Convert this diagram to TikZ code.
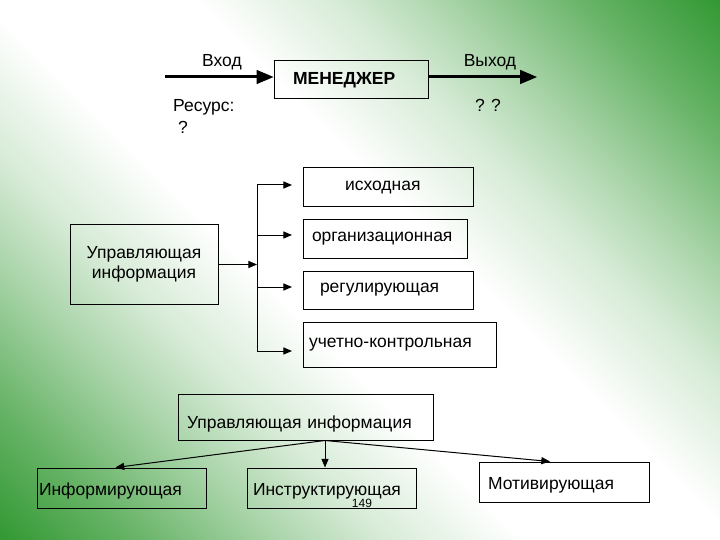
\documentclass[tikz,border=0pt]{standalone}
\usepackage{fontspec}
\setmainfont{Liberation Sans}
\usepackage{tikz}
\usetikzlibrary{arrows}
\definecolor{slidegreen}{RGB}{51,153,51}
\pgfdeclareverticalshading{slidebg}{100bp}{color(0bp)=(slidegreen); color(14.6bp)=(slidegreen); color(22bp)=(slidegreen!75!white); color(30bp)=(slidegreen!42!white); color(36bp)=(slidegreen!20!white); color(44bp)=(white); color(56bp)=(white); color(64bp)=(slidegreen!20!white); color(70bp)=(slidegreen!42!white); color(78bp)=(slidegreen!75!white); color(85.4bp)=(slidegreen); color(100bp)=(slidegreen)}
\tikzset{box/.style={draw,line width=1pt,inner ysep=0pt,align=left},
  link/.style={->,line width=1pt}}

\begin{document}
\begin{tikzpicture}[x=1pt,y=-1pt,>=triangle 45,every node/.style={font=\fontsize{17.5}{20}\selectfont}]
\shade[shading=slidebg,shading angle=-45] (0,0) rectangle (720,540);
\node[box,minimum height=38,inner xsep=19,text width=116,font=\fontsize{17.5}{20}\selectfont\bfseries] (mgr) at (351,80) {МЕНЕДЖЕР};
\coordinate (inL) at (165,77);
\coordinate (outR) at (537,77);
\draw[->,line width=3pt] (inL) -- (inL -| mgr.west);
\draw[->,line width=3pt] (outR -| mgr.east) -- (outR);
\node[anchor=base] (vhod) at (222,67) {Вход};
\node[anchor=base] (vyhod) at (490,67) {Выход};
\node[anchor=base west,inner sep=0] (resurs) at (173,112) {Ресурс:};
\node[anchor=base,inner sep=0] (q1) at (183,134) {?};
\node[anchor=base,inner sep=0] (q2) at (488,112) {? ?};
\node[box,minimum width=148,minimum height=79,align=center] (upr) at (144,264.5) {Управляющая\\информация};
\node[box,minimum height=39,inner xsep=42,text width=86] (src) at (388,187.5) {исходная};
\node[box,minimum height=38,inner xsep=9,text width=146] (org) at (385,239) {организационная};
\node[box,minimum height=38,inner xsep=17,text width=136] (reg) at (388,290) {регулирующая};
\node[box,minimum height=45,inner xsep=6,text width=181] (acc) at (399.5,344.5) {учетно-контрольная};
\coordinate (t1) at (257,185);
\coordinate (t2) at (257,235);
\coordinate (t3) at (257,287);
\coordinate (t4) at (257,351);
\coordinate (tips) at (292,0);
\draw[link] (upr.east) -- (upr.east -| t1);
\draw[line width=1pt] (t1) -- (t4);
\draw[link] (t1) -- (t1 -| tips);
\draw[link] (t2) -- (t2 -| tips);
\draw[link] (t3) -- (t3 -| tips);
\draw[link] (t4) -- (t4 -| tips);
\node[box,minimum height=46,inner xsep=9,text width=237,text height=26,text depth=4] (upr2) at (305.5,417) {Управляющая информация};
\node[box,minimum height=40,inner xsep=2,text width=165,text height=18] (inf) at (121.5,488) {Информирующая};
\node[box,minimum height=40,inner xsep=6,text width=157,text height=18] (ins) at (331.5,488) {Инструктирующая};
\node[box,minimum height=40,inner xsep=9,text width=152,text height=18] (mot) at (564,482) {Мотивирующая};
\node[inner sep=0,font=\fontsize{12}{12}\selectfont] (pnum) at (362,503) {149};
\coordinate (split) at ([xshift=19.5]upr2.south);
\draw[link] (split) -- ([xshift=-6]inf.north);
\draw[link] (split) -- (split |- ins.north);
\draw[link] (split) -- ([xshift=-14]mot.north);
\end{tikzpicture}
\end{document}
